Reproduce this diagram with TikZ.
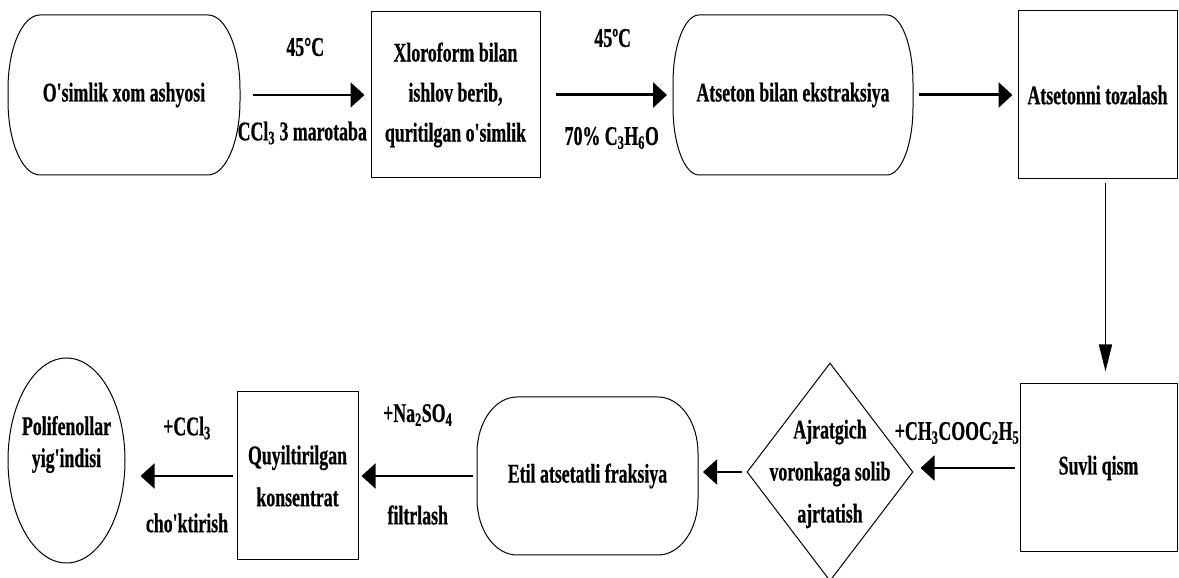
\documentclass[tikz,border=0pt]{standalone}
\usepackage{fontspec}
\setmainfont{Liberation Serif}[FakeStretch=0.66,Ligatures=TeXOff,BoldFeatures={FakeBold=0.6}]
\usetikzlibrary{arrows.meta,shapes.geometric}
\newcommand\blobline[3]{\draw[line width=1pt] ([xshift=#2]#1.north west) -- ([xshift=-#2]#1.north east)
  arc[start angle=90,end angle=0,x radius=#2,y radius=#3] -- ([yshift=#3]#1.south east)
  arc[start angle=0,end angle=-90,x radius=#2,y radius=#3] -- ([xshift=#2]#1.south west)
  arc[start angle=270,end angle=180,x radius=#2,y radius=#3] -- ([yshift=-#3]#1.north west)
  arc[start angle=180,end angle=90,x radius=#2,y radius=#3] -- cycle;}
\begin{document}
\begin{tikzpicture}[x=1pt,y=1pt,
  every node/.style={font=\bfseries\fontsize{27}{42}\selectfont},
  box/.style={draw,line width=1pt,inner sep=0pt,align=center},
  blob/.style={inner sep=0pt,outer sep=0pt,align=center},
  flow/.style={line width=2pt,-{Triangle[length=14pt,width=25pt]}},
  heavy/.style={flow,line width=3pt},
  drop/.style={line width=1.5pt,-{Triangle[length=27pt,width=13pt]}}]
\useasboundingbox (0,0) rectangle (1179,578);
\node[blob,minimum width=232pt,minimum height=160pt] (raw) at (124,483) {O'simlik xom ashyosi};
\node[box,minimum width=169pt,minimum height=166pt,font=\bfseries\fontsize{27}{40}\selectfont] (dried) at (455.5,483) {Xloroform bilan\\ishlov berib,\\quritilgan o'simlik};
\node[blob,minimum width=240pt,minimum height=160pt] (extr) at (793,483) {Atseton bilan ekstraksiya};
\node[box,minimum width=159pt,minimum height=168pt] (clean) at (1097.5,483) {Atsetonni tozalash};
\blobline{raw}{32pt}{74pt} \blobline{extr}{26pt}{68pt}
\node[box,minimum width=157pt,minimum height=168pt] (water) at (1098.5,110) {Suvli qism};
\node[diamond,draw,line width=1pt,inner sep=0pt,minimum width=166pt,minimum height=218pt,
  label={[align=center,yshift=-2pt]center:Ajratgich\\voronkaga solib\\ajrtatish}] (funnel) at (830,106) {};
\node[blob,minimum width=221pt,minimum height=158pt] (etil) at (587.5,102) {Etil atsetatli fraksiya};
\node[box,minimum width=121pt,minimum height=168pt] (conc) at (297.5,102) {Quyiltirilgan\\konsentrat};
\node[ellipse,draw,line width=1pt,inner sep=0pt,minimum width=117pt,minimum height=205pt,
  label={[align=center,yshift=16pt,font=\bfseries\fontsize{27}{32}\selectfont]center:Polifenollar\\yig'indisi}] (poly) at (66.5,117.5) {};
\blobline{etil}{40pt}{56pt}
\draw[flow,shorten <=13pt,shorten >=6pt] (dried.west -| raw.east) -- (dried.west)
  node[midway,yshift=48pt] {45°C} node[midway,xshift=-3pt,yshift=-38pt] {CCl\textsubscript{3} 3 marotaba};
\draw[heavy,shorten <=15pt,shorten >=6pt] (dried.east) -- (dried.east -| extr.west)
  node[midway,xshift=6pt,yshift=57pt] {45ºC} node[midway,xshift=5pt,yshift=-43pt] {70\% C\textsubscript{3}H\textsubscript{6}O};
\draw[heavy,shorten <=6pt,shorten >=5pt] (extr.east) -- (extr.east -| clean.west);
\draw[drop,shorten <=4pt,shorten >=12pt] ([xshift=8pt]clean.south) -- ([xshift=8pt]clean.south |- water.north);
\draw[flow,shorten <=5pt,shorten >=7pt] (water.west) -- (water.west -| funnel.east)
  node[midway,xshift=-9.5pt,yshift=35pt] {+CH\textsubscript{3}COOC\textsubscript{2}H\textsubscript{5}};
\draw[flow,shorten <=5pt,shorten >=5pt] (funnel.west) -- (funnel.west -| etil.east);
\draw[flow,shorten <=4pt,shorten >=3pt] (etil.west) -- (etil.west -| conc.east)
  node[midway,yshift=61pt] {+Na\textsubscript{2}SO\textsubscript{4}} node[midway,yshift=-39pt] {filtrlash};
\draw[flow,shorten <=4pt,shorten >=15pt] (conc.west) -- (conc.west -| poly.east)
  node[midway,xshift=6pt,yshift=48pt] {+CCl\textsubscript{3}} node[midway,xshift=6pt,yshift=-47pt] {cho'ktirish};
\end{tikzpicture}
\end{document}
